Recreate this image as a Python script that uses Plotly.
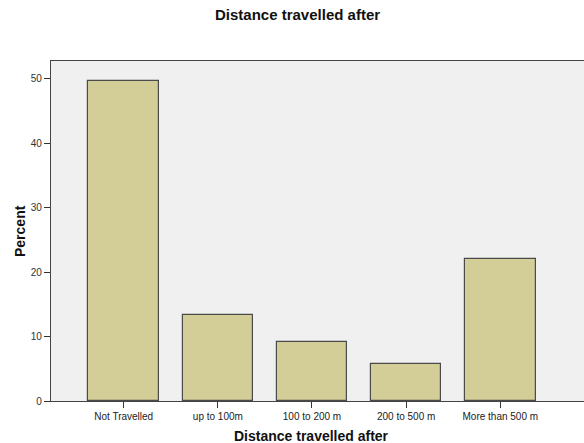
import plotly.graph_objects as go

categories = ["Not Travelled", "up to 100m", "100 to 200 m", "200 to 500 m", "More than 500 m"]
percent = [49.6, 13.4, 9.2, 5.75, 22.0]
y_ticks = [0, 10, 20, 30, 40, 50]

W, H = 584, 443
ml, mt, mb = 51, 61, 42
pw = W - ml
ph = H - mt - mb
font = "Liberation Sans, Arial, sans-serif"

fig = go.Figure(go.Bar(
    x=list(range(len(categories))), y=percent, width=0.75,
    marker=dict(color="#D3CE97", line=dict(color="#4a4a4a", width=1.2)),
    hoverinfo="skip",
))

fig.update_layout(
    width=W, height=H, autosize=False,
    margin=dict(l=ml, r=0, t=mt, b=mb, pad=0),
    paper_bgcolor="white", plot_bgcolor="#F0F0F0",
    showlegend=False, bargap=0,
    font=dict(family=font, color="#222"),
)
fig.update_xaxes(
    range=[-0.772, 4.889], tickvals=list(range(len(categories))), ticktext=categories,
    ticks="outside", ticklen=6, tickcolor="#333", tickwidth=1.3,
    tickfont=dict(size=10, color="#222", family=font),
    showline=True, linecolor="#444", linewidth=1.3, mirror=True,
    showgrid=False, zeroline=False,
)
fig.update_yaxes(
    range=[0, 52.75], tickvals=y_ticks,
    ticks="outside", ticklen=6, tickcolor="#333", tickwidth=1.3,
    tickfont=dict(size=10, color="#333", family=font),
    showline=True, linecolor="#444", linewidth=1.3,
    showgrid=False, zeroline=False,
)
fig.add_annotation(text="<b>Distance travelled after</b>", xref="paper", yref="paper",
                   x=(297.5 - ml) / pw, y=1 + (mt - 14) / ph, showarrow=False,
                   font=dict(size=15, color="#111", family=font), xanchor="center", yanchor="middle")
fig.add_annotation(text="<b>Distance travelled after</b>", xref="paper", yref="paper",
                   x=(311.7 - ml) / pw, y=-(436 - (H - mb)) / ph, showarrow=False,
                   font=dict(size=14, color="#111", family=font), xanchor="center", yanchor="middle")
fig.add_annotation(text="<b>Percent</b>", xref="paper", yref="paper",
                   x=-(ml - 20) / pw, y=(H - mb - 231) / ph, showarrow=False, textangle=-90,
                   font=dict(size=14, color="#111", family=font), xanchor="center", yanchor="middle")

fig.write_html("out.html", config={"displayModeBar": False})
with open("out.html", encoding="utf-8") as f:
    html = f.read()
html = html.replace("<head>", "<head><style>html,body{margin:0;padding:0;overflow:hidden}</style>", 1)
with open("out.html", "w", encoding="utf-8") as f:
    f.write(html)
